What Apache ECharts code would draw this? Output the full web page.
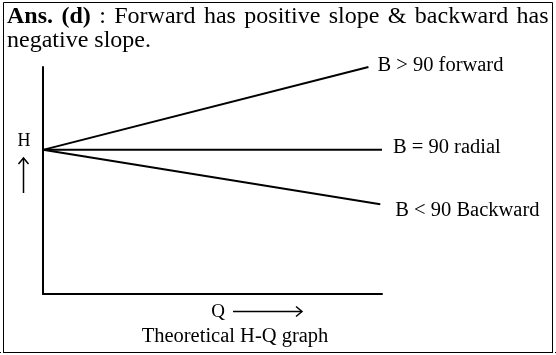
<!DOCTYPE html>
<html><head><meta charset="utf-8">
<script src="https://cdn.jsdelivr.net/npm/echarts@6/dist/echarts.min.js"></script>
<style>html,body{margin:0;padding:0;background:#fff}#c{width:556px;height:355px}</style>
</head><body><div id="c"></div>
<script>
const seriesNames = ['B > 90 forward', 'B = 90 radial', 'B < 90 Backward'];
const startPoint = [0, 6.35];
const forwardEnd = [9.6, 10];
const radialEnd = [10, 6.35];
const backwardEnd = [9.95, 3.95];
const titleBold = 'Ans. (d)';
const titleRest = ': Forward has positive slope & backward has';
const titleLine2 = 'negative slope.';
const yName = 'H';
const xName = 'Q';
const caption = 'Theoretical H-Q graph';

const F = 'Liberation Serif';
const chart = echarts.init(document.getElementById('c'), null, {renderer: 'canvas'});
const mk = (name, end, dx, dy) => ({
  name, type: 'line', data: [startPoint, end], symbol: 'none',
  lineStyle: {color: '#000', width: 2}, animation: false, silent: true,
  endLabel: {show: true, formatter: '{a}', offset: [dx, dy], color: '#000', fontFamily: F, fontSize: 20.5}
});
// justified first line: words joined by widened space tokens
const line1 = titleBold.split(' ').map(w => '{b|' + w + '}')
  .concat(titleRest.split(' ').map(w => '{n|' + w + '}')).join('{s| }');
chart.setOption({
  animation: false,
  backgroundColor: '#fff',
  grid: {left: 43, top: 67, width: 339, height: 227},
  xAxis: {type: 'value', min: 0, max: 10, axisLine: {show: true, lineStyle: {color: '#000', width: 2}}, axisTick: {show: false}, axisLabel: {show: false}, splitLine: {show: false}},
  yAxis: {type: 'value', min: 0, max: 10, axisLine: {show: true, lineStyle: {color: '#000', width: 2}}, axisTick: {show: false}, axisLabel: {show: false}, splitLine: {show: false}},
  series: [
    mk(seriesNames[0], forwardEnd, 1, -1),
    mk(seriesNames[1], radialEnd, 3, -2),
    mk(seriesNames[2], backwardEnd, 7, 6)
  ],
  graphic: [
    {type: 'rect', shape: {x: 3.5, y: 2.5, width: 549, height: 350}, style: {fill: null, stroke: '#000', lineWidth: 1}},
    {type: 'line', shape: {x1: 0, y1: 352.5, x2: 556, y2: 352.5}, style: {stroke: '#000', lineWidth: 1, lineDash: [1, 2]}},
    {type: 'text', left: 7, top: 5, style: {text: line1 + '\n{n|' + titleLine2 + '}',
      fontFamily: F, fontSize: 24, fill: '#000', lineHeight: 24,
      rich: {b: {fontWeight: 'bold', fontFamily: F, fontSize: 24, fill: '#000', lineHeight: 24},
             n: {fontFamily: F, fontSize: 24, fill: '#000', lineHeight: 24},
             s: {fontFamily: F, fontSize: 24, fill: '#000', lineHeight: 24, width: 8.4}}}},
    {type: 'text', x: 24, y: 141, style: {text: yName, fontFamily: F, fontSize: 18, fill: '#000', align: 'center', verticalAlign: 'middle'}},
    {type: 'line', shape: {x1: 23.5, y1: 158, x2: 23.5, y2: 193}, style: {stroke: '#000', lineWidth: 1.5}},
    {type: 'polyline', shape: {points: [[18.5, 164], [23.5, 158], [28.5, 164]]}, style: {stroke: '#000', lineWidth: 1.5, fill: null}},
    {type: 'text', x: 218, y: 312, style: {text: xName, fontFamily: F, fontSize: 19, fill: '#000', align: 'center', verticalAlign: 'middle'}},
    {type: 'line', shape: {x1: 233, y1: 311.5, x2: 302, y2: 311.5}, style: {stroke: '#000', lineWidth: 1.5}},
    {type: 'polyline', shape: {points: [[296, 306.5], [302, 311.5], [296, 316.5]]}, style: {stroke: '#000', lineWidth: 1.5, fill: null}},
    {type: 'text', x: 235, y: 337, style: {text: caption, fontFamily: F, fontSize: 20.5, fill: '#000', align: 'center', verticalAlign: 'middle'}}
  ]
});
</script></body></html>
